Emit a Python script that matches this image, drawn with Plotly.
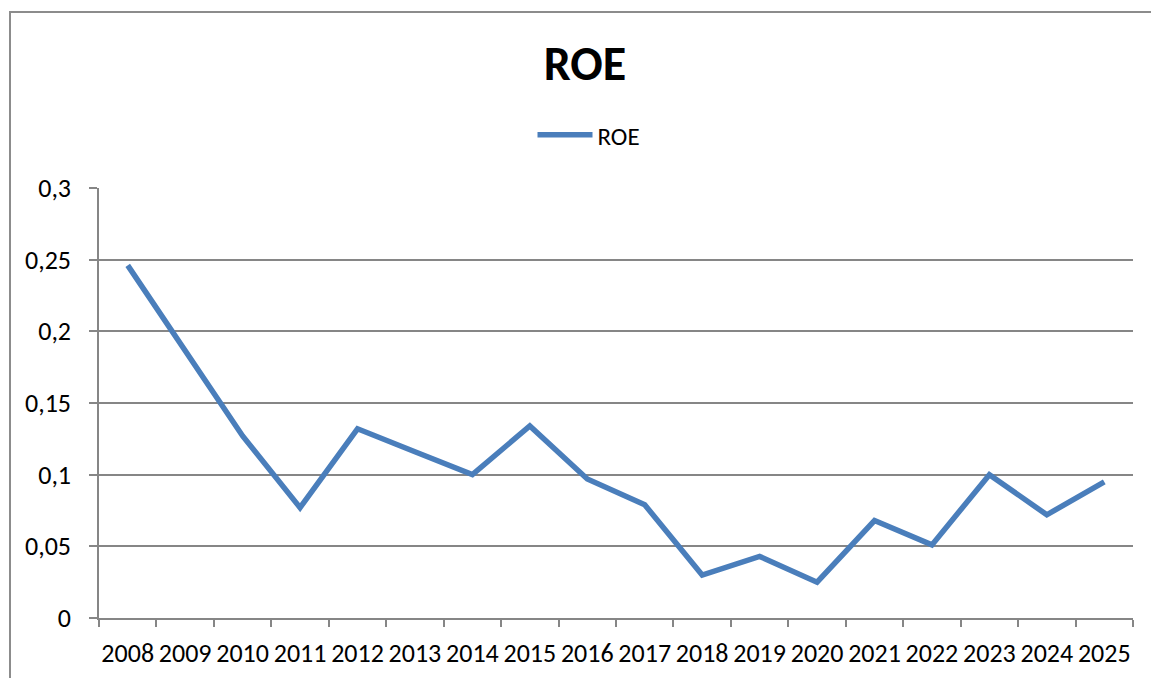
import plotly.graph_objects as go

years = [str(y) for y in range(2008, 2026)]
roe = [0.246, 0.187, 0.127, 0.077, 0.132, 0.116, 0.100, 0.134, 0.097, 0.079,
       0.030, 0.043, 0.025, 0.068, 0.051, 0.100, 0.072, 0.095]
y_tickvals = [0, 0.05, 0.1, 0.15, 0.2, 0.25, 0.3]
y_ticktext = ["0", "0,05", "0,1", "0,15", "0,2", "0,25", "0,3"]

FONT = "Calibri, Carlito, Lato, sans-serif"
GRID = "#868686"
W, H = 1151, 678
L, R, T, B = 99, 18, 188, 60
pw, ph = W - L - R, H - T - B

def px(x):
    return (x - L) / pw

def py(y):
    return (H - B - y) / ph

fig = go.Figure()
fig.add_trace(go.Scatter(
    x=years, y=roe, mode="lines", name="ROE",
    line=dict(color="#4A7EBB", width=5.5, shape="linear"),
    showlegend=True,
))

fig.update_layout(
    width=W, height=H, autosize=False,
    margin=dict(l=L, r=R, t=T, b=B, autoexpand=False),
    paper_bgcolor="white", plot_bgcolor="white",
    font=dict(family=FONT, color="black", size=24),
    title=dict(text="<b>ROE</b>", font=dict(family=FONT, size=48, color="black"),
               x=585 / W, xanchor="center", xref="container",
               y=1 - 63 / H, yanchor="middle", yref="container"),
    legend=dict(orientation="h", x=px(589), xanchor="center", y=py(135), yanchor="middle",
                font=dict(family=FONT, size=25, color="black"),
                itemwidth=55, bgcolor="rgba(0,0,0,0)"),
    showlegend=True,
    xaxis=dict(type="category", range=[-0.5, len(years) - 0.5], showgrid=False,
               showline=True, linecolor=GRID, linewidth=1.5, automargin=False,
               ticks="outside", tickson="boundaries", ticklen=7, tickcolor=GRID, tickwidth=1.5,
               tickangle=0,
               tickfont=dict(family=FONT, size=26, color="black"), ticklabelstandoff=11,
               fixedrange=True),
    yaxis=dict(range=[0, 0.3], tickvals=y_tickvals, ticktext=y_ticktext, automargin=False,
               showgrid=True, gridcolor=GRID, gridwidth=1.5, zeroline=False,
               showline=True, linecolor=GRID, linewidth=1.5,
               ticks="outside", ticklen=8, tickcolor=GRID, tickwidth=1.5,
               tickfont=dict(family=FONT, size=26, color="black"), ticklabelstandoff=13,
               fixedrange=True),
    shapes=[dict(type="path", xref="paper", yref="paper",
                 path=f"M {px(10)} {py(H + 5)} L {px(10)} {py(12)} L {px(W + 5)} {py(12)}",
                 line=dict(color="#8c8c8c", width=2), fillcolor="rgba(0,0,0,0)", layer="below")],
)

fig.write_html("out.html", config={"displayModeBar": False},
               post_script="document.body.style.margin='0';document.body.style.overflow='hidden';")
